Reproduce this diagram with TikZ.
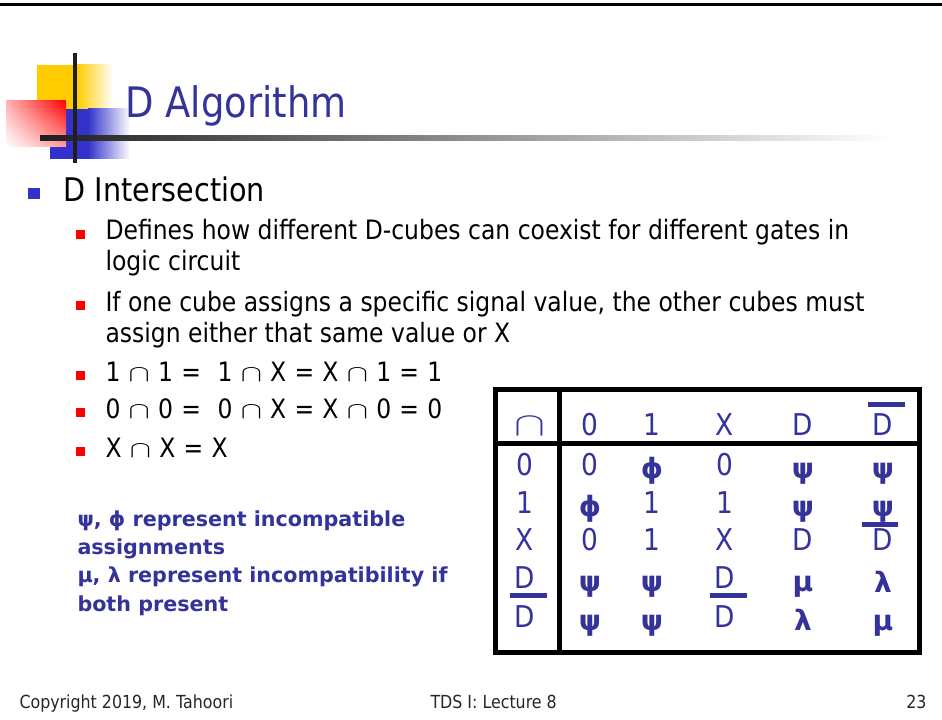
\documentclass[tikz,border=0pt]{standalone}
\usepackage{fontspec}
\setmainfont{DejaVu Sans}[FakeStretch=0.88]
\newfontfamily\widesans{DejaVu Sans}
\usetikzlibrary{shadings}
\definecolor{slideblue}{RGB}{51,51,153}
\definecolor{markblue}{RGB}{51,51,204}
\definecolor{logoyellow}{RGB}{255,204,0}
\newcommand{\icap}{\scalebox{1.15}[0.85]{$\cap$}}
\newcommand{\eqspacing}{\spaceskip 6.2pt\relax}

\tikzset{every picture/.style={line width=0.75pt}}
\tikzset{
  titletext/.style={anchor=base west,inner sep=0pt,text=slideblue,font=\fontsize{31.5}{31.5}\selectfont},
  lvlone/.style={anchor=base west,inner sep=0pt,font=\fontsize{24.4}{24.4}\selectfont},
  lvltwo/.style={anchor=base west,inner sep=0pt,font=\fontsize{20}{20}\selectfont},
  eqline/.style={lvltwo,font=\fontsize{20}{20}\selectfont\eqspacing},
  notetext/.style={anchor=base west,inner sep=0pt,text=slideblue,font=\widesans\fontsize{15.5}{15.5}\selectfont\bfseries},
  foot/.style={anchor=base west,inner sep=0pt,text=black!85,font=\fontsize{13.5}{13.5}\selectfont},
  cell/.style={anchor=base,inner sep=0pt,text=slideblue,font=\fontsize{22.5}{22.5}\selectfont},
  grk/.style={anchor=base,inner sep=0pt,text=slideblue,font=\widesans\fontsize{21}{21}\selectfont\bfseries},
  tblline/.style={line width=3.75pt,line cap=rect},
  ovbar/.style={line width=3.75pt,color=slideblue},
}

\begin{document}
\begin{tikzpicture}[x=0.75pt,y=0.75pt,yscale=-1,xscale=1]
\useasboundingbox (0,0) rectangle (942,720);
%Top rule
\draw [line width=2.25pt]   (0,5) -- (942,5) ;

%Logo blocks
\fill [logoyellow] (37,65) rectangle (77,109);
\shade [left color=logoyellow,right color=white] (77,65) rectangle (113,109);
\fill [markblue] (50,109) rectangle (88,159);
\shade [left color=markblue,right color=white] (88,109) rectangle (130,159);
\shade [upper right=red,upper left=red!30,lower right=red!38,lower left=white] (6,101) rectangle (66,147);
%Logo lines
\shade [left color=black!88,middle color=black!22,right color=white] (40,136) rectangle (890,141);
\draw [line width=3pt,color=black!88]   (75,53) -- (75,163) ;

% Text Node
\draw (125,118) node [titletext] (title) {D Algorithm};

%Bullets
\fill [markblue] (28,188) rectangle (40,199);
\fill [red] (76,230) rectangle (85,239);
\fill [red] (76,301) rectangle (85,310);
\fill [red] (76,371) rectangle (85,380);
\fill [red] (76,408) rectangle (85,417);
\fill [red] (76,447) rectangle (85,456);

% Text Node
\draw (63,202) node [lvlone] (dint) {D Intersection};
% Text Node
\draw (105,240) node [lvltwo] (defa) {Defines how different D-cubes can coexist for different gates in};
\draw (105,271) node [lvltwo] (defb) {logic circuit};
% Text Node
\draw (105,311) node [lvltwo] (ifa) {If one cube assigns a specific signal value, the other cubes must};
\draw (105,342) node [lvltwo] (ifb) {assign either that same value or X};
% Text Node
\draw (105,381) node [eqline] (ones) {1 \icap{} 1 =\ \ 1 \icap{} X = X \icap{} 1 = 1};
\draw (105,418) node [eqline] (zeros) {0 \icap{} 0 =\ \ 0 \icap{} X = X \icap{} 0 = 0};
\draw (105,457) node [eqline] (exes) {X \icap{} X = X};

% Text Node
\draw (77,526) node [notetext] (notea) {ψ, ϕ represent incompatible};
\draw (77,554) node [notetext] (noteb) {assignments};
\draw (77,582) node [notetext] (notec) {μ, λ represent incompatibility if};
\draw (77,611) node [notetext] (noted) {both present};

%Table frame
\draw [tblline] (495,389) rectangle (919.5,652);
\draw [tblline] (559.5,389) -- (559.5,652);
\draw [tblline] (495,443.5) -- (919.5,443.5);

%Header row
\draw (530,435) node [cell] (hcap) {\scalebox{1.4}[1]{\fontsize{33}{33}\selectfont$\cap$}};
\draw (590,435) node [cell] (h0) {0};
\draw (652,435) node [cell] (h1) {1};
\draw (725,435) node [cell] (hx) {X};
\draw (803,435) node [cell] (hd) {D};
\draw (883,435) node [cell] (hdb) {D};
\draw [ovbar] (hdb.base) ++(-15,-31) -- ++(37,0);

%Row labels
\draw (525,475) node [cell] (l0) {0};
\draw (525,513) node [cell] (l1) {1};
\draw (525,550) node [cell] (lx) {X};
\draw (525,588) node [cell] (ld) {D};
\draw (525,627) node [cell] (ldb) {D};
\draw [ovbar] (ldb.base) ++(-15,-31.5) -- ++(37,0);

%Row 0
\draw (590,475) node [cell] (a00) {0};
\draw (652,478) node [grk] (a01) {ϕ};
\draw (725,475) node [cell] (a02) {0};
\draw (803,478) node [grk] (a03) {ψ};
\draw (883,478) node [grk] (a04) {ψ};
%Row 1
\draw (590,516) node [grk] (a10) {ϕ};
\draw (652,513) node [cell] (a11) {1};
\draw (725,513) node [cell] (a12) {1};
\draw (803,516) node [grk] (a13) {ψ};
\draw (883,516) node [grk] (a14) {ψ};
%Row X
\draw (590,550) node [cell] (a20) {0};
\draw (652,550) node [cell] (a21) {1};
\draw (725,550) node [cell] (a22) {X};
\draw (803,550) node [cell] (a23) {D};
\draw (883,550) node [cell] (a24) {D};
\draw [ovbar] (a24.base) ++(-21,-25.5) -- ++(36,0);
%Row D
\draw (590,591) node [grk] (a30) {ψ};
\draw (652,591) node [grk] (a31) {ψ};
\draw (725,588) node [cell] (a32) {D};
\draw (803,591) node [grk] (a33) {μ};
\draw (883,592) node [grk] (a34) {λ};
%Row Dbar
\draw (590,630) node [grk] (a40) {ψ};
\draw (652,630) node [grk] (a41) {ψ};
\draw (725,627) node [cell] (a42) {D};
\draw [ovbar] (a42.base) ++(-15,-31.5) -- ++(37,0);
\draw (803,630) node [grk] (a43) {λ};
\draw (883,630) node [grk] (a44) {μ};

%Footer
\draw (19,708) node [foot] (copy) {Copyright 2019, M. Tahoori};
\draw (430,708) node [foot] (lect) {TDS I: Lecture 8};
\draw (927,708) node [foot,anchor=base east] (pnum) {23};

\end{tikzpicture}
\end{document}
